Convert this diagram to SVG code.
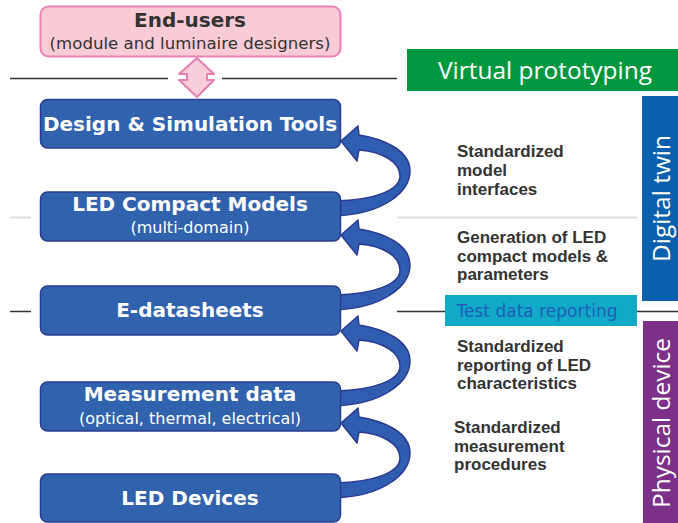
<svg xmlns="http://www.w3.org/2000/svg" xmlns:xlink="http://www.w3.org/1999/xlink" width="678" height="523" viewBox="0 0 678 523">
<style>
.box{fill:#3162ae;stroke:#2b3d8f;stroke-width:1.5}
.t{font-family:"DejaVu Sans","Liberation Sans",sans-serif;font-weight:bold;font-size:20px;fill:#fff;text-anchor:middle}
.s{font-family:"DejaVu Sans","Liberation Sans",sans-serif;font-size:16px;fill:#fff;text-anchor:middle}
.r{font-family:"Liberation Sans",Arial,sans-serif;font-weight:bold;font-size:17px;fill:#333}
.side{font-family:"Open Sans","Noto Sans",sans-serif;font-size:24px;fill:#fff}
.rib{fill:#2f5db0;stroke:#2b3a8e;stroke-width:1.5;stroke-linejoin:round}
</style>
<defs>
<path id="rib" d="M341,-51 L358,-66 L359,-57 C385,-53 410,-41 410,-21 C410,-1 385,22 335,24 L335,9 C375,8 400,-2 400,-16 C400,-30 383,-40 359,-42 L357,-31 Z"/>
</defs>
<rect width="678" height="523" fill="#fff"/>
<g id="lines">
<line x1="10" y1="78.5" x2="168" y2="78.5" stroke="#333" stroke-width="1.5"/>
<line x1="222" y1="78.5" x2="397" y2="78.5" stroke="#333" stroke-width="1.5"/>
<line x1="10" y1="217.5" x2="31" y2="217.5" stroke="#ddd" stroke-width="2"/>
<line x1="397" y1="217.5" x2="637" y2="217.5" stroke="#ddd" stroke-width="2"/>
<line x1="10" y1="311.5" x2="31" y2="311.5" stroke="#333" stroke-width="1.5"/>
<line x1="397" y1="311.5" x2="678" y2="311.5" stroke="#333" stroke-width="1.5"/>
</g>
<g id="connectors">
<polygon points="197,58 214,74 207,74 207,80 214,80 197,97 179,80 187,80 187,74 179,74" fill="#f9cdd9" stroke="#e57fb2" stroke-width="2" stroke-linejoin="round"/>
<use xlink:href="#rib" class="rib" transform="translate(0,192)"/>
<use xlink:href="#rib" class="rib" transform="translate(0,286)"/>
<use xlink:href="#rib" class="rib" transform="translate(0,382)"/>
<use xlink:href="#rib" class="rib" transform="translate(0,474)"/>
</g>
<g id="end-users">
<rect x="40.5" y="6.5" width="300" height="50" rx="8" fill="#f8cbd6" stroke="#e982b5" stroke-width="2"/>
<text x="190" y="27" class="t" style="fill:#333">End-users</text>
<text x="190" y="49" class="s" style="fill:#333;font-size:16.6px">(module and luminaire designers)</text>
</g>
<g id="design-tools">
<rect x="40.5" y="99.5" width="300" height="48.5" rx="7" class="box"/>
<text x="190" y="131" class="t">Design &amp; Simulation Tools</text>
</g>
<g id="compact-models">
<rect x="40.5" y="192" width="300" height="49" rx="7" class="box"/>
<text x="190" y="211" class="t">LED Compact Models</text>
<text x="190" y="233" class="s">(multi-domain)</text>
</g>
<g id="e-datasheets">
<rect x="40.5" y="286" width="300" height="49" rx="7" class="box"/>
<text x="190" y="317" class="t">E-datasheets</text>
</g>
<g id="measurement-data">
<rect x="40.5" y="382" width="300" height="49" rx="7" class="box"/>
<text x="190" y="401" class="t">Measurement data</text>
<text x="190" y="424" class="s">(optical, thermal, electrical)</text>
</g>
<g id="led-devices">
<rect x="40.5" y="474" width="300" height="48" rx="7" class="box"/>
<text x="190" y="505" class="t">LED Devices</text>
</g>
<g id="virtual-prototyping">
<rect x="407" y="49" width="271" height="42" fill="#00983f"/>
<text x="438" y="79" class="side" textLength="214" lengthAdjust="spacingAndGlyphs">Virtual prototyping</text>
</g>
<g id="digital-twin">
<rect x="642" y="96" width="36" height="205" fill="#0a60ad"/>
<text transform="translate(670,262) rotate(-90)" class="side" style="font-size:23px" textLength="127" lengthAdjust="spacingAndGlyphs">Digital twin</text>
</g>
<g id="physical-device">
<rect x="643" y="321" width="35" height="202" fill="#7d3088"/>
<text transform="translate(670,508) rotate(-90)" class="side" style="font-size:23px" textLength="170" lengthAdjust="spacingAndGlyphs">Physical device</text>
</g>
<g id="test-data-reporting">
<rect x="445" y="295" width="192" height="31" fill="#12a9c9"/>
<text x="537" y="317" text-anchor="middle" textLength="161" lengthAdjust="spacingAndGlyphs" style="font-family:'DejaVu Sans',sans-serif;font-size:17px;fill:#1d5fb6">Test data reporting</text>
</g>
<g id="labels">
<text class="r" x="457"><tspan x="457" y="157">Standardized</tspan><tspan x="457" y="176">model</tspan><tspan x="457" y="195">interfaces</tspan></text>
<text class="r" x="457"><tspan x="457" y="243">Generation of LED</tspan><tspan x="457" y="262">compact models &amp;</tspan><tspan x="457" y="280">parameters</tspan></text>
<text class="r" x="457"><tspan x="457" y="352">Standardized</tspan><tspan x="457" y="371">reporting of LED</tspan><tspan x="457" y="389">characteristics</tspan></text>
<text class="r" x="454"><tspan x="454" y="433">Standardized</tspan><tspan x="454" y="452">measurement</tspan><tspan x="454" y="470">procedures</tspan></text>
</g>
</svg>
